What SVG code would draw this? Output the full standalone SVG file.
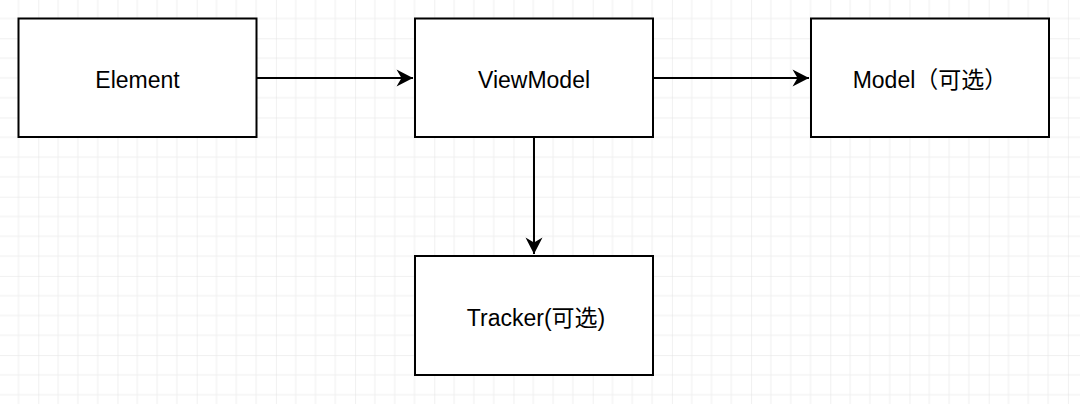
<svg xmlns="http://www.w3.org/2000/svg" width="1080" height="404" viewBox="0 0 1080 404">
<style>
.box{fill:#ffffff;stroke:#000000;stroke-width:2}
.lbl{font-family:"Liberation Sans","Noto Sans CJK SC",Arial,sans-serif;font-size:23px;fill:#000000;text-anchor:middle}
.edge{fill:none;stroke:#000000;stroke-width:2}
</style>
<defs>
<pattern id="grid" patternUnits="userSpaceOnUse" x="38.3" y="38.3" width="79.2" height="79.2">
<path d="M19.8 0V79.2M39.6 0V79.2M59.4 0V79.2M0 19.8H79.2M0 39.6H79.2M0 59.4H79.2" stroke="#f0f0f0" stroke-width="1" fill="none"/>
<path d="M0 0V79.2M0 0H79.2" stroke="#e2e2e2" stroke-width="1" fill="none"/>
</pattern>
<marker id="arrow" markerUnits="userSpaceOnUse" markerWidth="20" markerHeight="20" viewBox="-17 -10 18 20" refX="0" refY="0" orient="auto">
<path d="M0 0L-16.5 -8.5L-11.5 0L-16.5 8.5Z" fill="#000000"/>
</marker>
</defs>
<rect width="1080" height="404" fill="#ffffff"/>
<rect width="1080" height="404" fill="url(#grid)"/>
<g id="connectors">
<path class="edge" d="M256.5 78H413" marker-end="url(#arrow)"/>
<path class="edge" d="M653 78H809" marker-end="url(#arrow)"/>
<path class="edge" d="M534 137V254" marker-end="url(#arrow)"/>
</g>
<g id="element">
<rect class="box" x="18.5" y="18.5" width="238" height="118.5"/>
<text class="lbl" x="137.5" y="87.5">Element</text>
</g>
<g id="viewmodel">
<rect class="box" x="415" y="18.5" width="238" height="118.5"/>
<text class="lbl" x="534" y="87.5">ViewModel</text>
</g>
<g id="model">
<rect class="box" x="811" y="18.5" width="238" height="118.5"/>
<text class="lbl" x="930" y="87.5">Model（可选）</text>
</g>
<g id="tracker">
<rect class="box" x="415" y="256" width="238" height="119"/>
<text class="lbl" x="536" y="325.5">Tracker(可选)</text>
</g>
</svg>
